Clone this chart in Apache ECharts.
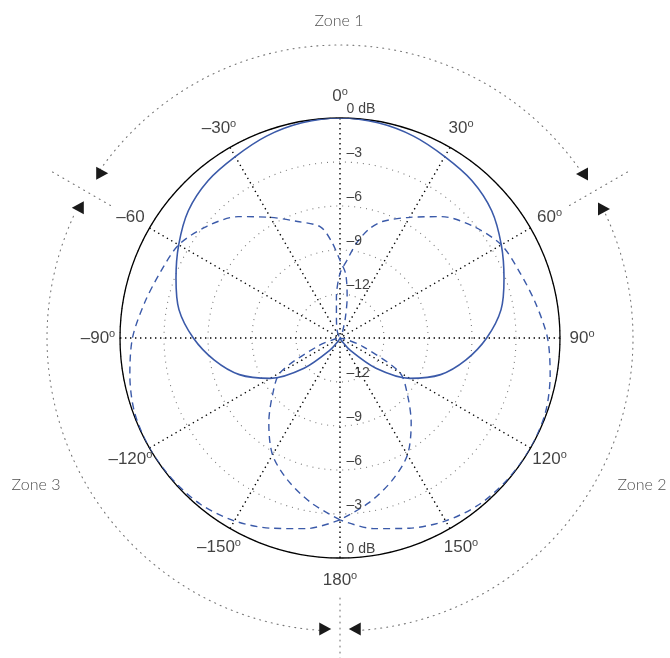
<!DOCTYPE html>
<html><head><meta charset="utf-8">
<script src="https://cdn.jsdelivr.net/npm/echarts@6/dist/echarts.min.js"></script>
<style>html,body{margin:0;padding:0;background:#fff}#c{width:670px;height:658px}</style>
</head><body><div id="c"></div>
<script>
// ---- data (dB vs. angle, degrees clockwise from top) ----
const zone1Angles = [-180,-170,-160,-150,-140,-130,-120,-110,-100,-90,-80,-70,-60,-50,-40,-30,-20,-10,0,
                     10,20,30,40,50,60,70,80,90,100,110,120,130,140,150,160,170,180];
const zone1Db = [-15,-15,-15,-14.8,-13.9,-11.8,-9.5,-7.7,-6.3,-5.0,-3.85,-3.1,-2.3,-1.5,-1.0,-0.72,-0.35,-0.1,0,
                 -0.1,-0.35,-0.72,-1.0,-1.5,-2.3,-3.1,-3.85,-5.0,-6.3,-7.7,-9.5,-11.8,-13.9,-14.8,-15,-15,-15];
const dashedAngles = [-180,-170,-160,-150,-140,-130,-120,-110,-100,-90,-80,-70,-60,-50,-40,-30,-20,-10,-5,0,
                      5,10,15,20,30,40,50,60,70,80,90,100,110,120,130,140,150,160,170,180];
const zone2Db = [-2.6,-3.6,-4.65,-5.8,-7.45,-9.0,-10.3,-13.4,-14.7,-15,-15,-15,-15,-15,-15,-14.8,-14.4,-13.6,-12.2,-10.6,
                 -9.7,-8.4,-7.3,-6.55,-5.5,-4.2,-3.15,-2.3,-1.95,-1.45,-0.85,-0.45,-0.1,0,-0.05,-0.2,-0.6,-1.2,-1.8,-2.6];
const zone3Db = [-2.6,-1.8,-1.2,-0.6,-0.2,-0.05,0,-0.1,-0.45,-0.85,-1.45,-1.95,-2.3,-3.15,-4.2,-5.5,-6.55,-7.3,-8.4,-9.7,
                 -10.6,-12.2,-13.6,-14.4,-14.8,-15,-15,-15,-15,-15,-15,-14.7,-13.4,-10.3,-9.0,-7.45,-5.8,-4.65,-3.6,-2.6];
const radiusTicks = [0,-3,-6,-9,-12];
const radiusTickLabels = ['0 dB','–3','–6','–9','–12'];
const radiusLabelAngles = [0,180];
const angleTicks = [0,30,60,90,120,150,180,-150,-120,-90,-60,-30];
const angleTickLabels = ['0','30','60','90','120','150','180','–150','–120','–90','–60','–30'];
const angleTickDegree = [true,true,true,true,true,true,true,true,true,true,false,true];
const zoneNames = ['Zone 1','Zone 2','Zone 3'];

// ---- layout ----
const CX = 340, CY = 338, R = 220;
const blue = '#3b5aa9';
const font = 'Liberation Sans, Arial, Helvetica, sans-serif';

function pt(theta, r){ const t = theta*Math.PI/180; return [CX + r*Math.sin(t), CY - r*Math.cos(t)]; }
function zr(theta){ return (theta-90)*Math.PI/180; }

const graphics = [];
const dotStyle = {stroke:'#777', fill:null, lineWidth:1.1, lineDash:[1,5], lineCap:'round'};
[[-55,55],[65,176],[184,295]].forEach(function(s){
  graphics.push({type:'arc', shape:{cx:CX, cy:CY, r:293, startAngle:zr(s[0]), endAngle:zr(s[1]), clockwise:true}, style:dotStyle, silent:true});
});
[-60,60,180].forEach(function(a){
  const p0 = pt(a, a===180?260:265), p1 = pt(a, 336);
  graphics.push({type:'line', shape:{x1:p0[0], y1:p0[1], x2:p1[0], y2:p1[1]}, style:{stroke:'#777', lineWidth:1.1, lineDash:[1,5], lineCap:'round'}, silent:true});
});
[[-55.5,291,1],[-63.4,291,-1],[56.1,294,-1],[63.8,292,1],[183.3,291.5,1],[176.7,291.5,-1]].forEach(function(a){
  const c = pt(a[0], a[1]), d = a[2];
  graphics.push({type:'polygon', shape:{points:[[c[0]+d*8,c[1]],[c[0]-d*4,c[1]-6.5],[c[0]-d*4,c[1]+6.5]]}, style:{fill:'#1a1a1a'}, silent:true});
});
const zonePos = [[339,21],[642,485],[36,485]];
zoneNames.forEach(function(n,i){
  graphics.push({type:'text', x:zonePos[i][0], y:zonePos[i][1], style:{text:n, font:'300 16px Lato, "Open Sans", sans-serif', fill:'#505050', align:'center', verticalAlign:'middle'}, silent:true});
});

const radiusLabelData = [];
radiusLabelAngles.forEach(function(a){ radiusTicks.forEach(function(v,i){ radiusLabelData.push({value:[v,a], name:radiusTickLabels[i]}); }); });
const angleLabelData = angleTicks.map(function(a,i){
  return {value:[1,a], name: angleTickDegree[i] ? '{n|'+angleTickLabels[i]+'}{s|o}' : '{n|'+angleTickLabels[i]+'}'};
});

const chart = echarts.init(document.getElementById('c'));
chart.setOption({
  animation:false,
  backgroundColor:'#fff',
  polar:[{center:[CX,CY], radius:R},{center:[CX,CY], radius:242}],
  angleAxis:[
    {polarIndex:0, type:'value', min:-180, max:180, interval:30, startAngle:270, clockwise:true, z:3,
     axisLine:{show:true, lineStyle:{color:'#000', width:1.3}}, axisTick:{show:false}, axisLabel:{show:false},
     splitLine:{show:true, lineStyle:{color:'#000', width:1.4, type:[1.4,3.6]}}},
    {polarIndex:1, type:'value', min:-180, max:180, startAngle:270, clockwise:true, show:false}
  ],
  radiusAxis:[
    {polarIndex:0, type:'value', min:-15, max:0, interval:3, z:1,
     axisLine:{show:false}, axisTick:{show:false}, axisLabel:{show:false},
     splitLine:{show:true, lineStyle:{color:'#7a7a7a', width:1.1, type:[1,5]}}},
    {polarIndex:1, type:'value', min:0, max:1, show:false}
  ],
  series:[
    {name:zoneNames[0], type:'line', coordinateSystem:'polar', polarIndex:0, smooth:0.3, showSymbol:false, z:5,
     lineStyle:{color:blue, width:1.6}, data: zone1Angles.map(function(a,i){ return [zone1Db[i], a]; })},
    {name:zoneNames[1], type:'line', coordinateSystem:'polar', polarIndex:0, smooth:0.3, showSymbol:false, z:5,
     lineStyle:{color:blue, width:1.4, type:[7,5]}, data: dashedAngles.map(function(a,i){ return [zone2Db[i], a]; })},
    {name:zoneNames[2], type:'line', coordinateSystem:'polar', polarIndex:0, smooth:0.3, showSymbol:false, z:5,
     lineStyle:{color:blue, width:1.4, type:[7,5]}, data: dashedAngles.map(function(a,i){ return [zone3Db[i], a]; })},
    {type:'scatter', coordinateSystem:'polar', polarIndex:0, symbol:'circle', symbolSize:9, z:4, silent:true,
     itemStyle:{color:'rgba(0,0,0,0)', borderColor:'#000', borderWidth:0.9, borderType:[1,2]}, data:[[-15,0]]},
    {type:'scatter', coordinateSystem:'polar', polarIndex:0, symbolSize:1, z:6, silent:true,
     itemStyle:{color:'rgba(0,0,0,0)'}, data:radiusLabelData,
     label:{show:true, position:'right', distance:6, offset:[0,-9], formatter:'{b}', fontFamily:font, fontSize:14, color:'#111'}},
    {type:'scatter', coordinateSystem:'polar', polarIndex:1, symbolSize:1, z:6, silent:true,
     itemStyle:{color:'rgba(0,0,0,0)'}, data:angleLabelData,
     label:{show:true, position:'inside', formatter:'{b}', color:'#111',
       rich:{n:{fontFamily:font, fontSize:17, lineHeight:20, color:'#111'},
             s:{fontFamily:font, fontSize:11, lineHeight:7, verticalAlign:'top', color:'#111'}}}}
  ],
  graphic:graphics
});
</script></body></html>
